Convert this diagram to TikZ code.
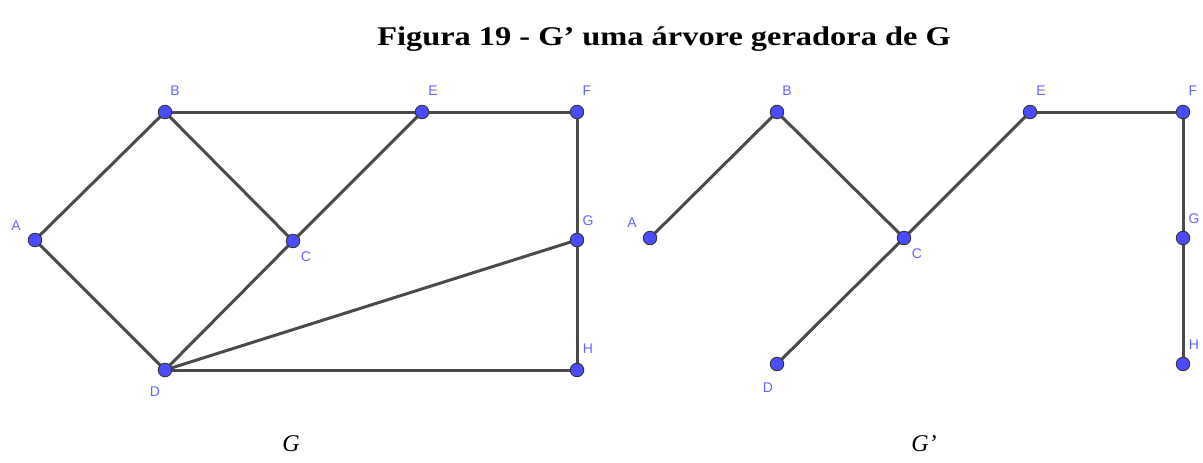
\documentclass[tikz,border=0pt]{standalone}
\usepackage{fontspec}
\setmainfont{Liberation Serif}
\newfontfamily\lblfont{Liberation Sans}
\definecolor{ptblue}{HTML}{4B4BFF}
\definecolor{lblblue}{HTML}{6464FF}
\definecolor{edgegray}{HTML}{4A4A4A}
\begin{document}
\begin{tikzpicture}[
  x=1pt, y=-1pt,
  vnode/.style={circle, draw=black!80, fill=ptblue, line width=0.9pt, inner sep=0pt, minimum size=13.5pt},
  vlabel/.style={text=lblblue, font=\lblfont\fontsize{14}{14}\selectfont, inner sep=0pt},
  edge/.style={line width=3pt, draw=edgegray}
]
  \useasboundingbox (0,0) rectangle (1203,463);

  % Título
  \node[font=\bfseries\fontsize{27}{30}\selectfont] (titulo) at (664,39) {\scalebox{1.2}[1]{Figura 19 - G’ uma árvore geradora de G}};

  % Grafo G
  \coordinate (A1) at (35,240);
  \coordinate (B1) at (165,112);
  \coordinate (E1) at (422,112);
  \coordinate (F1) at (577,112);
  \coordinate (C1) at (293,241);
  \coordinate (G1) at (577,240);
  \coordinate (D1) at (165,370);
  \coordinate (H1) at (577,370);

  \foreach \u/\v in {A1/B1, B1/E1, E1/F1, B1/C1, C1/E1, A1/D1, C1/D1, D1/G1, D1/H1, F1/G1, G1/H1} {
    \draw[edge] (\u) -- (\v);
  }
  \foreach \p in {A1,B1,C1,D1,E1,F1,G1,H1} {
    \node[vnode] (n\p) at (\p) {};
  }

  \node[vlabel] (lA1) at (16,226) {A};
  \node[vlabel] (lB1) at (175,91) {B};
  \node[vlabel] (lE1) at (433,91) {E};
  \node[vlabel] (lF1) at (587,91) {F};
  \node[vlabel] (lC1) at (306,257) {C};
  \node[vlabel] (lG1) at (588,221) {G};
  \node[vlabel] (lD1) at (155,392) {D};
  \node[vlabel] (lH1) at (588,349) {H};

  % Grafo G' (árvore geradora)
  \coordinate (A2) at (650,238);
  \coordinate (B2) at (777,112);
  \coordinate (E2) at (1030,112);
  \coordinate (F2) at (1183,112);
  \coordinate (C2) at (904,238);
  \coordinate (G2) at (1183,238);
  \coordinate (D2) at (777,364);
  \coordinate (H2) at (1183,364);

  \foreach \u/\v in {A2/B2, B2/C2, C2/E2, E2/F2, C2/D2, F2/G2, G2/H2} {
    \draw[edge] (\u) -- (\v);
  }
  \foreach \p in {A2,B2,C2,D2,E2,F2,G2,H2} {
    \node[vnode] (n\p) at (\p) {};
  }

  \node[vlabel] (lA2) at (632,223) {A};
  \node[vlabel] (lB2) at (787,91) {B};
  \node[vlabel] (lE2) at (1041,91) {E};
  \node[vlabel] (lF2) at (1193,91) {F};
  \node[vlabel] (lC2) at (917,254) {C};
  \node[vlabel] (lG2) at (1194,219) {G};
  \node[vlabel] (lD2) at (768,388) {D};
  \node[vlabel] (lH2) at (1194,345) {H};

  % Rótulos inferiores
  \node[font=\itshape\fontsize{24}{24}\selectfont] (rotG) at (291,444) {G};
  \node[font=\itshape\fontsize{24}{24}\selectfont] (rotGp) at (924,444) {G’};
\end{tikzpicture}
\end{document}
